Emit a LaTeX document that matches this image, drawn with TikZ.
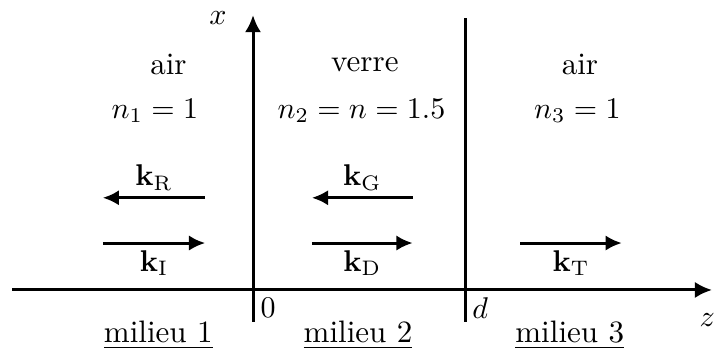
\documentclass[tikz,border=0pt]{standalone}
\usepackage{amsmath}
\usetikzlibrary{arrows.meta,positioning}
\tikzset{
  fr diagram/.style={line cap=butt, line join=miter,
    font=\fontsize{10.35}{13}\selectfont},
  fr axis/.style={-{Latex[length=2mm,width=1.9mm]}, line width=1pt},
  fr interface/.style={line width=1pt},
  fr wave/.style={-{Latex[length=1.9mm,width=1.8mm]}, line width=1pt},
  fr label/.style={inner sep=2pt}
}
\begin{document}
\begin{tikzpicture}[fr diagram]
\useasboundingbox (-2.964,-0.715) rectangle (5.412,3.397);
% axes and interfaces
\coordinate (zstart) at (-2.823,0);
\coordinate (zend) at (5.377,0);
\coordinate (xstart) at (0,-0.375);
\coordinate (xend) at (0,3.22);
\coordinate (dbot) at (2.484,-0.375);
\coordinate (dtop) at (2.484,3.19);
\draw[fr axis] (zstart) -- (zend);
\draw[fr axis] (xstart) -- (xend);
\draw[fr interface] (dbot) -- (dtop);
\node (xlab) at (-0.41,3.19) {$x$};
\node (zlab) at (5.32,-0.35) {$z$};
\node (orig) at (0.176,-0.21) {$0$};
\node (dlab) at (2.66,-0.21) {$d$};
% media
\foreach \i/\xm/\xn/\xb/\name/\idx in {1/-0.99/-1.15/-1.11/air/{n_1=1},
    2/1.31/1.27/1.23/verre/{n_2=n=1.5},3/3.83/3.80/3.71/air/{n_3=1}}{
  \node (mat\i) at (\xm,2.64) {\name};
  \node (ind\i) at (\xn,2.10) {$\idx$};
  \node (med\i) at (\xb,-0.53) {\underline{milieu \i}};
}
% wave vectors
\foreach \w/\xa/\xe/\y/\pos in {R/-0.56/-1.76/1.08/above,I/-1.76/-0.56/0.55/below,
    G/1.87/0.69/1.08/above,D/0.69/1.87/0.55/below,T/3.13/4.32/0.55/below}{
  \coordinate (k\w s) at (\xa,\y);
  \coordinate (k\w e) at (\xe,\y);
  \draw[fr wave] (k\w s) -- (k\w e)
    node[fr label,midway,\pos] (lab\w) {$\mathbf{k}_\mathrm{\w}$};
}
\end{tikzpicture}
\end{document}
